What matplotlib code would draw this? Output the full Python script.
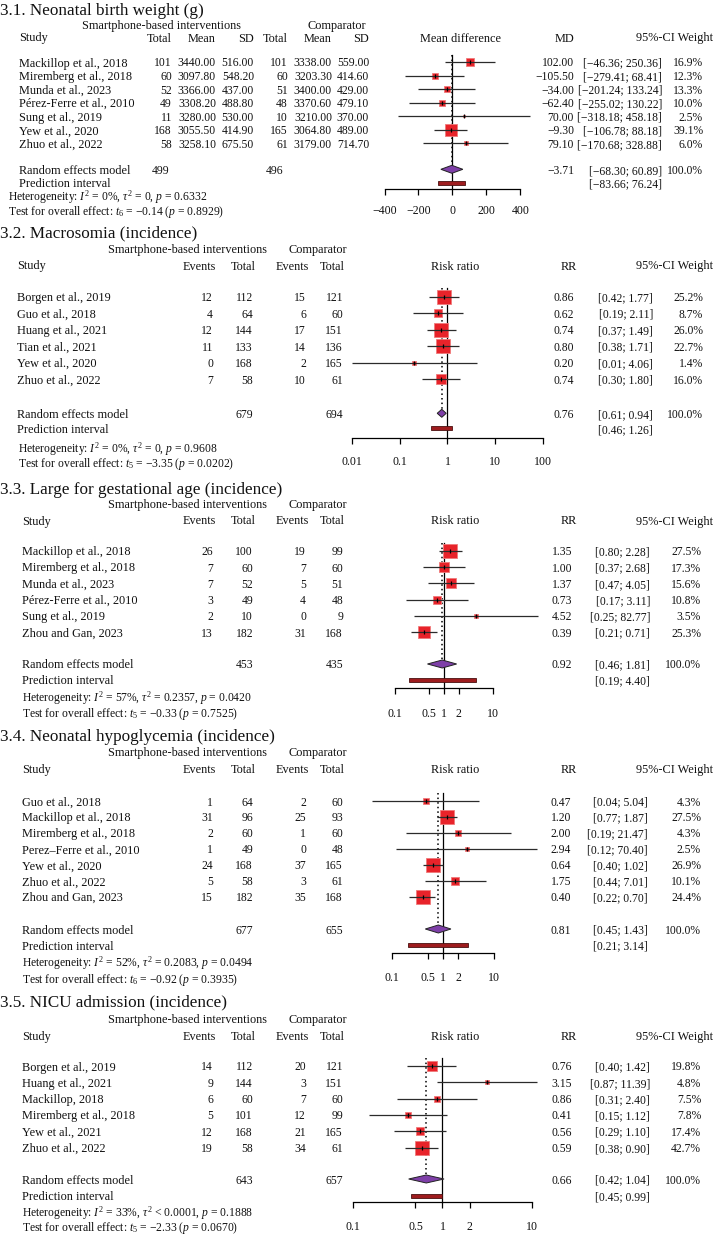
"""Forest plots for neonatal outcomes (smartphone-based interventions vs comparator)."""

import matplotlib
matplotlib.use("Agg")
import matplotlib.pyplot as plt
from matplotlib.patches import Polygon
from matplotlib.ticker import NullLocator

W, H = 716, 1235
DPI = 100

plt.rcParams["font.family"] = ["Liberation Serif", "DejaVu Serif"]
plt.rcParams["mathtext.fontset"] = "custom"
plt.rcParams["mathtext.rm"] = "Liberation Serif"
plt.rcParams["mathtext.it"] = "Liberation Serif:italic"

FS = 8.8        # labels
FS_NUM = 8.4    # numeric columns (the original face has narrow digits)
FS_STAT = 8.4   # heterogeneity / overall effect lines
FS_TITLE = 12.3

# ---------------------------------------------------------------- data
titles = [
    "3.1. Neonatal birth weight (g)",
    "3.2. Macrosomia (incidence)",
    "3.3. Large for gestational age (incidence)",
    "3.4. Neonatal hypoglycemia (incidence)",
    "3.5. NICU admission (incidence)",
]

# 3.1 neonatal birth weight (mean difference)
studies1 = ["Mackillop et al., 2018", "Miremberg et al., 2018", "Munda et al., 2023",
            "Pérez-Ferre et al., 2010", "Sung et al., 2019", "Yew et al., 2020",
            "Zhuo et al., 2022"]
exp_total1 = [101, 60, 52, 49, 11, 168, 58]
exp_mean1 = [3440.00, 3097.80, 3366.00, 3308.20, 3280.00, 3055.50, 3258.10]
exp_sd1 = [516.00, 548.20, 437.00, 488.80, 530.00, 414.90, 675.50]
ctl_total1 = [101, 60, 51, 48, 10, 165, 61]
ctl_mean1 = [3338.00, 3203.30, 3400.00, 3370.60, 3210.00, 3064.80, 3179.00]
ctl_sd1 = [559.00, 414.60, 429.00, 479.10, 370.00, 489.00, 714.70]
md1 = [102.00, -105.50, -34.00, -62.40, 70.00, -9.30, 79.10]
lo1 = [-46.36, -279.41, -201.24, -255.02, -318.18, -106.78, -170.68]
hi1 = [250.36, 68.41, 133.24, 130.22, 458.18, 88.18, 328.88]
w1 = [16.9, 12.3, 13.3, 10.0, 2.5, 39.1, 6.0]

# 3.2 macrosomia
studies2 = ["Borgen et al., 2019", "Guo et al., 2018", "Huang et al., 2021",
            "Tian et al., 2021", "Yew et al., 2020", "Zhuo et al., 2022"]
ev_e2 = [12, 4, 12, 11, 0, 7]
n_e2 = [112, 64, 144, 133, 168, 58]
ev_c2 = [15, 6, 17, 14, 2, 10]
n_c2 = [121, 60, 151, 136, 165, 61]
rr2 = [0.86, 0.62, 0.74, 0.80, 0.20, 0.74]
lo2 = [0.42, 0.19, 0.37, 0.38, 0.01, 0.30]
hi2 = [1.77, 2.11, 1.49, 1.71, 4.06, 1.80]
w2 = [25.2, 8.7, 26.0, 22.7, 1.4, 16.0]

# 3.3 large for gestational age
studies3 = ["Mackillop et al., 2018", "Miremberg et al., 2018", "Munda et al., 2023",
            "Pérez-Ferre et al., 2010", "Sung et al., 2019", "Zhou and Gan, 2023"]
ev_e3 = [26, 7, 7, 3, 2, 13]
n_e3 = [100, 60, 52, 49, 10, 182]
ev_c3 = [19, 7, 5, 4, 0, 31]
n_c3 = [99, 60, 51, 48, 9, 168]
rr3 = [1.35, 1.00, 1.37, 0.73, 4.52, 0.39]
lo3 = [0.80, 0.37, 0.47, 0.17, 0.25, 0.21]
hi3 = [2.28, 2.68, 4.05, 3.11, 82.77, 0.71]
w3 = [27.5, 17.3, 15.6, 10.8, 3.5, 25.3]

# 3.4 neonatal hypoglycemia
studies4 = ["Guo et al., 2018", "Mackillop et al., 2018", "Miremberg et al., 2018",
            "Perez\u2013Ferre et al., 2010", "Yew et al., 2020", "Zhuo et al., 2022",
            "Zhou and Gan, 2023"]
ev_e4 = [1, 31, 2, 1, 24, 5, 15]
n_e4 = [64, 96, 60, 49, 168, 58, 182]
ev_c4 = [2, 25, 1, 0, 37, 3, 35]
n_c4 = [60, 93, 60, 48, 165, 61, 168]
rr4 = [0.47, 1.20, 2.00, 2.94, 0.64, 1.75, 0.40]
lo4 = [0.04, 0.77, 0.19, 0.12, 0.40, 0.44, 0.22]
hi4 = [5.04, 1.87, 21.47, 70.40, 1.02, 7.01, 0.70]
w4 = [4.3, 27.5, 4.3, 2.5, 26.9, 10.1, 24.4]

# 3.5 NICU admission
studies5 = ["Borgen et al., 2019", "Huang et al., 2021", "Mackillop, 2018",
            "Miremberg et al., 2018", "Yew et al., 2021", "Zhuo et al., 2022"]
ev_e5 = [14, 9, 6, 5, 12, 19]
n_e5 = [112, 144, 60, 101, 168, 58]
ev_c5 = [20, 3, 7, 12, 21, 34]
n_c5 = [121, 151, 60, 99, 165, 61]
rr5 = [0.76, 3.15, 0.86, 0.41, 0.56, 0.59]
lo5 = [0.40, 0.87, 0.31, 0.15, 0.29, 0.38]
hi5 = [1.42, 11.39, 2.40, 1.12, 1.10, 0.90]
w5 = [19.8, 4.8, 7.5, 7.8, 17.4, 42.7]

# pooled (random effects) estimate, CI, prediction interval, group totals
re_est = [-3.71, 0.76, 0.92, 0.81, 0.66]
re_lo = [-68.30, 0.61, 0.46, 0.45, 0.42]
re_hi = [60.89, 0.94, 1.81, 1.43, 1.04]
pi_lo = [-83.66, 0.46, 0.19, 0.21, 0.45]
pi_hi = [76.24, 1.26, 4.40, 3.14, 0.99]
re_n_e = [499, 679, 453, 677, 643]
re_n_c = [496, 694, 435, 655, 657]

het_text = [
    r"Heterogeneity: $I^2$ = 0%, $\tau^2$ = 0, $p$ = 0.6332",
    r"Heterogeneity: $I^2$ = 0%, $\tau^2$ = 0, $p$ = 0.9608",
    r"Heterogeneity: $I^2$ = 57%, $\tau^2$ = 0.2357, $p$ = 0.0420",
    r"Heterogeneity: $I^2$ = 52%, $\tau^2$ = 0.2083, $p$ = 0.0494",
    r"Heterogeneity: $I^2$ = 33%, $\tau^2$ < 0.0001, $p$ = 0.1888",
]
test_text = [
    r"Test for overall effect: $t_6$ = −0.14 ($p$ = 0.8929)",
    r"Test for overall effect: $t_5$ = −3.35 ($p$ = 0.0202)",
    r"Test for overall effect: $t_5$ = −0.33 ($p$ = 0.7525)",
    r"Test for overall effect: $t_6$ = −0.92 ($p$ = 0.3935)",
    r"Test for overall effect: $t_5$ = −2.33 ($p$ = 0.0670)",
]

ticks1 = [-400, -200, 0, 200, 400]
tick_labels1 = ["−400", "−200", "0", "200", "400"]
ticks2 = [0.01, 0.1, 1, 10, 100]
tick_labels2 = ["0.01", "0.1", "1", "10", "100"]
ticks_rr = [0.1, 0.5, 1, 2, 10]
tick_labels_rr = ["0.1", "0.5", "1", "2", "10"]

# ---------------------------------------------------------------- layout (pixels)
LAYOUT = [
    dict(title=9, sub=24, head=37, row0=62, dy=13.55, re=169.3, pi=182.7, het=194.5, test=209.5,
         axis=189, lab=210, ref_px=452.5, scale=0.17, log=False, smax=11.5,
         name_x=19, stat_x=8, eff_x=574, ci_x=662, w_x=703),
    dict(title=231.5, sub=248, head=265, row0=296.7, dy=16.5, re=413.3, pi=428.3, het=446,
         test=461.5, axis=438.3, lab=460.7, ref_px=447.5, scale=47.95, log=True, smax=14.0,
         name_x=17, stat_x=18, eff_x=574, ci_x=653, w_x=703),
    dict(title=488, sub=503.3, head=520, row0=550.7, dy=16.3, re=664, pi=680, het=695.5,
         test=711.5, axis=688, lab=712.7, ref_px=444, scale=49, log=True, smax=13.5,
         name_x=22, stat_x=22, eff_x=572, ci_x=650, w_x=701),
    dict(title=735, sub=751.7, head=768.3, row0=801, dy=15.95, re=929, pi=945, het=961,
         test=977.5, axis=952.7, lab=977.3, ref_px=443, scale=51, log=True, smax=14.0,
         name_x=22, stat_x=22, eff_x=571, ci_x=648, w_x=701),
    dict(title=1000, sub=1018.3, head=1035.7, row0=1066, dy=16.3, re=1179, pi=1195.7,
         het=1210, test=1226, axis=1202.3, lab=1225.7, ref_px=442.5, scale=89.8, log=True,
         smax=14.0, name_x=22, stat_x=22, eff_x=572, ci_x=650, w_x=701),
]

TEXT_COLOR = "#111111"
SQ_COLOR = "#e8232a"
CI_COLOR = "#2b2b2b"
DIAMOND_COLOR = "#7e3fa8"
PI_COLOR = "#9e1c1e"


def fnum(v, nd=2):
    return f"{v:.{nd}f}".replace("-", "−")


def ci_str(lo, hi):
    return f"[{fnum(lo)}; {fnum(hi)}]"


def txt(ax, x, y, s, ha="left", size=FS):
    ax.text(x, y, s, ha=ha, va="center_baseline", fontsize=size, color=TEXT_COLOR)


def make_forest_axes(fig, lay):
    x0p, x1p = 330, 565
    top_p, bot_p = lay["head"] + 6, lay["axis"] + 2
    ax = fig.add_axes([x0p / W, 1 - bot_p / H, (x1p - x0p) / W, (bot_p - top_p) / H])
    ax.set_ylim(bot_p, top_p)
    if lay["log"]:
        ax.set_xscale("log")
        ax.set_xlim(10 ** ((x0p - lay["ref_px"]) / lay["scale"]),
                    10 ** ((x1p - lay["ref_px"]) / lay["scale"]))
    else:
        ax.set_xlim((x0p - lay["ref_px"]) / lay["scale"], (x1p - lay["ref_px"]) / lay["scale"])
    ax.patch.set_visible(False)
    for side in ("top", "left", "right"):
        ax.spines[side].set_visible(False)
    ax.set_yticks([])
    return ax


def draw_forest(fig, lay, est, lo, hi, wts, k):
    ax = make_forest_axes(fig, lay)
    ys = [lay["row0"] + i * lay["dy"] for i in range(len(est))]
    ref = 1 if lay["log"] else 0
    top = lay["row0"] - 0.5 * lay["dy"]

    # reference line and pooled-estimate dotted line
    ax.plot([ref, ref], [top, lay["axis"]], color="black", lw=0.9, zorder=1)
    ax.plot([re_est[k], re_est[k]], [top, lay["re"] - 4], color="black", lw=1.1,
            ls=(0, (1, 2)), zorder=1)

    wmax = max(wts)
    for y, e, l, h, w in zip(ys, est, lo, hi, wts):
        side = lay["smax"] * (w / wmax) ** 0.5
        ax.plot([e], [y], marker="s", ms=side * 72 / DPI, color=SQ_COLOR,
                mec="#f07a7a", mew=0.6, ls="none", zorder=2)
        ax.plot([l, h], [y, y], color=CI_COLOR, lw=0.9, zorder=3, solid_capstyle="butt")
        ax.plot([e], [y], marker="|", ms=2.5, color="black", mew=0.9, zorder=4)

    # pooled diamond
    hh = 4
    diamond = Polygon([(re_lo[k], lay["re"]), (re_est[k], lay["re"] - hh),
                       (re_hi[k], lay["re"]), (re_est[k], lay["re"] + hh)],
                      closed=True, facecolor=DIAMOND_COLOR, edgecolor="#222222", lw=0.7, zorder=3)
    ax.add_patch(diamond)

    # prediction interval
    ax.barh([lay["pi"]], [pi_hi[k] - pi_lo[k]], left=[pi_lo[k]], height=4,
            color=PI_COLOR, edgecolor="#4a1010", lw=0.6, zorder=3)

    # x axis
    if k == 0:
        ticks, labels = ticks1, tick_labels1
    elif k == 1:
        ticks, labels = ticks2, tick_labels2
    else:
        ticks, labels = ticks_rr, tick_labels_rr
    ax.xaxis.set_minor_locator(NullLocator())
    ax.set_xticks(ticks)
    ax.set_xticklabels(labels)
    ax.spines["bottom"].set_position(("data", lay["axis"]))
    ax.spines["bottom"].set_bounds(ticks[0], ticks[-1])
    ax.spines["bottom"].set_linewidth(0.9)
    pad_px = lay["lab"] - lay["axis"] - 6 - 5
    ax.tick_params(axis="x", direction="out", length=6 * 72 / DPI, width=0.9,
                   pad=pad_px * 72 / DPI, labelsize=FS_NUM + 0.2, labelcolor=TEXT_COLOR)
    return ys


def draw_text_common(main, lay, k, ys, names, eff, lo, hi, wts, label):
    txt(main, 0, lay["title"], titles[k], size=FS_TITLE)
    txt(main, lay["name_x"], lay["head"], "Study")
    txt(main, 460 if k == 0 else 455, lay["head"], label, ha="center")
    txt(main, 577 if k else 574, lay["head"], "MD" if k == 0 else "RR", ha="right")
    txt(main, 713, lay["head"], "95%-CI Weight", ha="right")
    for y, n, e, l, h, w in zip(ys, names, eff, lo, hi, wts):
        txt(main, lay["name_x"], y, n)
        txt(main, lay["eff_x"], y, fnum(e), ha="right", size=FS_NUM)
        txt(main, lay["ci_x"], y, ci_str(l, h), ha="right", size=FS_NUM)
        txt(main, lay["w_x"], y, f"{w:.1f}%", ha="right", size=FS_NUM)
    txt(main, lay["name_x"], lay["re"], "Random effects model")
    txt(main, lay["name_x"], lay["pi"], "Prediction interval")
    txt(main, lay["eff_x"], lay["re"], fnum(re_est[k]), ha="right", size=FS_NUM)
    txt(main, lay["ci_x"], lay["re"], ci_str(re_lo[k], re_hi[k]), ha="right", size=FS_NUM)
    txt(main, lay["w_x"], lay["re"], "100.0%", ha="right", size=FS_NUM)
    txt(main, lay["ci_x"], lay["pi"], ci_str(pi_lo[k], pi_hi[k]), ha="right", size=FS_NUM)
    txt(main, lay["stat_x"], lay["het"], het_text[k], size=FS_STAT)
    txt(main, lay["stat_x"], lay["test"], test_text[k], size=FS_STAT)


fig = plt.figure(figsize=(W / DPI, H / DPI), dpi=DPI)
fig.patch.set_facecolor("white")
main = fig.add_axes([0, 0, 1, 1])
main.set_xlim(0, W)
main.set_ylim(H, 0)
main.axis("off")

# panel 3.1 (continuous outcome)
lay = LAYOUT[0]
ys = draw_forest(fig, lay, md1, lo1, hi1, w1, 0)
draw_text_common(main, lay, 0, ys, studies1, md1, lo1, hi1, w1, "Mean difference")
txt(main, 161, lay["sub"], "Smartphone-based interventions", ha="center")
txt(main, 337, lay["sub"], "Comparator", ha="center")
cols1 = [(172, "Total", exp_total1, "{:d}"), (216, "Mean", exp_mean1, "{:.2f}"),
         (254, "SD", exp_sd1, "{:.2f}"), (288, "Total", ctl_total1, "{:d}"),
         (332, "Mean", ctl_mean1, "{:.2f}"), (369, "SD", ctl_sd1, "{:.2f}")]
for x, head, vals, fmt in cols1:
    txt(main, x, lay["head"], head, ha="right")
    for y, v in zip(ys, vals):
        txt(main, x, y, fmt.format(v), ha="right", size=FS_NUM)
txt(main, 169, lay["re"], str(re_n_e[0]), ha="right", size=FS_NUM)
txt(main, 283, lay["re"], str(re_n_c[0]), ha="right", size=FS_NUM)

# panels 3.2 - 3.5 (binary outcomes)
binary = [
    (studies2, ev_e2, n_e2, ev_c2, n_c2, rr2, lo2, hi2, w2),
    (studies3, ev_e3, n_e3, ev_c3, n_c3, rr3, lo3, hi3, w3),
    (studies4, ev_e4, n_e4, ev_c4, n_c4, rr4, lo4, hi4, w4),
    (studies5, ev_e5, n_e5, ev_c5, n_c5, rr5, lo5, hi5, w5),
]
for k, (names, eve, ne, evc, nc, rr, lo, hi, wts) in enumerate(binary, start=1):
    lay = LAYOUT[k]
    ys = draw_forest(fig, lay, rr, lo, hi, wts, k)
    draw_text_common(main, lay, k, ys, names, rr, lo, hi, wts, "Risk ratio")
    txt(main, 188, lay["sub"], "Smartphone-based interventions", ha="center")
    txt(main, 318, lay["sub"], "Comparator", ha="center")
    for xh, xv, head, vals in [(216, 213, "Events", eve), (256, 253, "Total", ne),
                               (309, 306, "Events", evc), (345, 343, "Total", nc)]:
        txt(main, xh, lay["head"], head, ha="right")
        for y, v in zip(ys, vals):
            txt(main, xv, y, str(v), ha="right", size=FS_NUM)
    txt(main, 253, lay["re"], str(re_n_e[k]), ha="right", size=FS_NUM)
    txt(main, 343, lay["re"], str(re_n_c[k]), ha="right", size=FS_NUM)

fig.savefig("out.png", dpi=DPI, facecolor="white")
plt.close(fig)
